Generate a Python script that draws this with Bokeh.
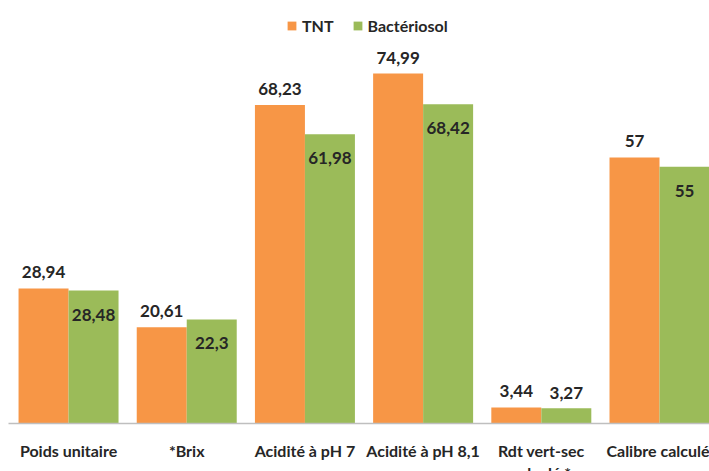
import numpy as np
from bokeh.plotting import figure
from bokeh.models import ColumnDataSource, FixedTicker, Range1d, Legend, LegendItem
from bokeh.core.properties import value
from bokeh.embed import file_html
from bokeh.resources import INLINE

categories = ["Poids unitaire", "*Brix", "Acidité à pH 7", "Acidité à pH 8,1",
              "Rdt vert-sec\ncalculé *", "Calibre calculé"]
tnt = [28.94, 20.61, 68.23, 74.99, 3.44, 57]
bacteriosol = [28.48, 22.3, 61.98, 68.42, 3.27, 55]
tnt_labels = ["28,94", "20,61", "68,23", "74,99", "3,44", "57"]
bac_labels = ["28,48", "22,3", "61,98", "68,42", "3,27", "55"]

ORANGE = "#F79646"
GREEN = "#9BBB59"
TXT = "#262626"
FONT = "Lato"

idx = np.arange(len(categories))
half = 0.2115
bw = 0.423

p = figure(frame_width=701, frame_height=415, output_backend="svg",
           toolbar_location=None, x_range=Range1d(-0.508, 5.423),
           y_range=Range1d(0, 88.92), min_border_left=8, min_border_right=0,
           min_border_top=8, min_border_bottom=0)
p.outline_line_color = None
p.xgrid.visible = False
p.ygrid.visible = False
p.yaxis.visible = False

src_t = ColumnDataSource(dict(x=idx - half, top=tnt, lab=tnt_labels))
inside = [v > 10 for v in bacteriosol]
src_b = ColumnDataSource(dict(
    x=idx + half, top=bacteriosol, lab=bac_labels,
    yoff=[24 if i else -15 for i in inside]))

r1 = p.vbar(x="x", top="top", width=bw, bottom=0, source=src_t,
            fill_color=ORANGE, line_color=None)
r2 = p.vbar(x="x", top="top", width=bw, bottom=0, source=src_b,
            fill_color=GREEN, line_color=None)

p.text(x="x", y="top", text="lab", source=src_t, y_offset=-16,
       text_align="center", text_baseline="alphabetic",
       text_font=value(FONT), text_font_style="bold",
       text_font_size="17px", text_color=TXT)
p.text(x="x", y="top", text="lab", source=src_b, y_offset="yoff",
       text_align="center", text_baseline="alphabetic",
       text_font=value(FONT), text_font_style="bold",
       text_font_size="17px", text_color=TXT)

ax = p.xaxis[0]
ax.ticker = FixedTicker(ticks=list(idx))
ax.major_label_overrides = {int(i): c for i, c in zip(idx, categories)}
ax.major_tick_line_color = None
ax.minor_tick_line_color = None
ax.axis_line_color = "#BFBFBF"
ax.axis_line_width = 1.5
ax.major_label_standoff = 11
ax.major_label_text_font = FONT
ax.major_label_text_font_style = "bold"
ax.major_label_text_font_size = "16px"
ax.major_label_text_color = TXT

legend = Legend(items=[LegendItem(label="TNT", renderers=[r1]),
                       LegendItem(label="Bactériosol", renderers=[r2])],
                orientation="horizontal", location=(278, 388))
legend.border_line_color = None
legend.background_fill_alpha = 0
legend.padding = 0
legend.margin = 0
legend.spacing = 18
legend.glyph_width = 11
legend.glyph_height = 11
legend.label_standoff = 5
legend.label_height = 20
legend.label_text_font = FONT
legend.label_text_font_style = "bold"
legend.label_text_font_size = "16px"
legend.label_text_color = TXT
p.add_layout(legend, "center")

open("out.html", "w").write(file_html(p, INLINE))
